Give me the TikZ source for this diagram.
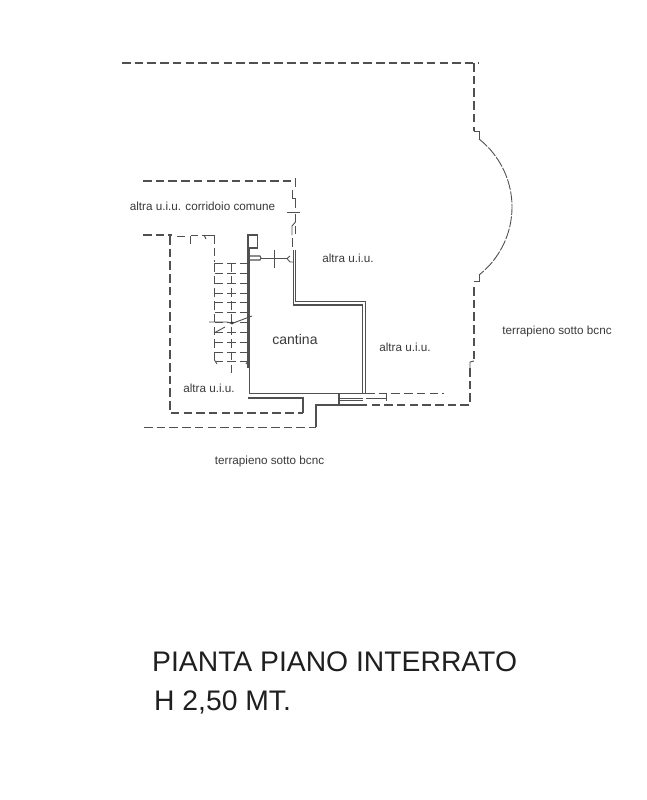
\documentclass[tikz,border=0pt]{standalone}
\usepackage{fontspec}
\setmainfont{Liberation Sans}
\definecolor{ink}{HTML}{3A3A3A}
\definecolor{lineink}{HTML}{505050}
\tikzset{
 wall/.style={draw=lineink,line width=1.05pt},
 thickwall/.style={draw=lineink,line width=3pt},
 dashline/.style={draw=lineink,line width=1.05pt,dash pattern=on 8.5pt off 4.2pt},
 fine/.style={draw=lineink,line width=0.9pt},
 stairdash/.style={draw=lineink,line width=0.95pt,dash pattern=on 8.5pt off 4.2pt},
 archdash/.style={draw=lineink,line width=0.9pt,dash pattern=on 11pt off 1.5pt},
 lab/.style={text=ink,inner sep=0pt,font=\fontsize{11.7}{13}\selectfont},
 title/.style={text=black!88,inner sep=0pt,anchor=base west,font=\fontsize{28.3}{32}\selectfont}
}
\begin{document}
\begin{tikzpicture}[x=1pt,y=-1pt]
\useasboundingbox (0,0) rectangle (646,800);
\fill[white] (0,0) rectangle (646,800);
% outer dashed boundary
\draw[dashline] (122,63) -- (478,63);
\draw[dashline] (474,63) -- (474,131);
\draw[fine] (474,131) -- (479,131) -- (479,139);
\draw[archdash] plot[domain=-51.7:51.7,samples=40] ({425.4+86.6*cos(\x)},{207+86.6*sin(\x)});
\draw[fine] (479,275) -- (479,281) -- (474,281);
\draw[dashline] (474,287) -- (474,361);
\draw[fine] (474,361) -- (470,362) -- (470,368);
\draw[dashline] (470,368) -- (470,405) -- (366,405);
% corridor dashed
\draw[dashline] (143,181) -- (294,181);
\draw[dashline] (295.5,178) -- (295.5,188);
\draw[fine] (292,190) -- (292,198) -- (295.5,198) -- (295.5,208);
\draw[fine] (287,212) -- (300,212);
\draw[fine] (295.5,214) -- (295.5,222) -- (292,226) -- (292,235);
\draw[fine] (295.5,226) -- (295.5,234);
\draw[fine] (292,238) -- (292,247);
% double wall
\draw[wall] (293.3,250) -- (293.3,305) -- (362.7,305) -- (362.7,393);
\draw[wall] (295.7,250) -- (295.7,301.7) -- (365.7,301.7) -- (365.7,393);
% cantina left and bottom
\draw[thickwall] (248.3,248) -- (248.3,368);
\draw[wall] (249.3,368) -- (249.3,393.3) -- (366,393.3);
% small box and door
\draw[wall] (248,248) -- (248,235) -- (257.3,235) -- (257.3,248) -- (248,248);
\draw[wall] (249,256) -- (260,256) -- (261,258) -- (260,260) -- (249,260);
\draw[fine] (261,258.5) -- (287,258.5);
\draw[fine] (274,250) -- (274,268);
\draw[fine] (287,258.5) -- (290,256) (287,258.5) -- (290,262) -- (293,262);
% left room dashed
\draw[dashline] (143,235) -- (172,235);
\draw[dashline] (170,236) -- (170,413) -- (303,413);
\draw[fine] (177,236) -- (185,236);
\draw[fine] (190.5,235.5) -- (190.5,244);
\draw[fine] (190.5,235.5) -- (198,235.5);
\draw[fine] (202,235) -- (214.5,235);
\draw[fine] (204,235) -- (206,239);
\draw[dashline] (214.5,235) -- (214.5,262);
\draw[wall] (248,398) -- (303,398) -- (303,413);
% lower steps
\draw[dashline] (144,427.3) -- (316,427.3);
\draw[wall] (316,427.3) -- (316,405) -- (366,405);
\draw[wall] (339,393) -- (339,405);
\draw[fine] (339,398) -- (363,398) (339,400.3) -- (363,400.3);
\draw[dashline] (366,393.3) -- (444,393.3);
\draw[fine] (366,398.5) -- (386,398.5);
\draw[fine] (386,393.3) -- (386,401);
% stairs
\foreach \s in {263,273,283,293,302.7,312,322,332,342,352,361}{
  \draw[stairdash] (214.5,\s) -- (248,\s);
}
\draw[stairdash] (214.5,263) -- (214.5,361);
\draw[stairdash] (231.7,263) -- (231.7,373);
% break line
\draw[fine] (209,322) -- (227,322) -- (232,323.5) -- (252,316);
\fill[ink] (232,323) circle (1.6pt);
\draw[fine] (214,333) -- (225,327);
\draw[fine] (214.5,360) -- (217,364) (248,361) -- (246,364);
% labels
\node[lab] (corr) at (202.5,206) {altra u.i.u. corridoio comune};
\node[lab] (u1) at (348,258) {altra u.i.u.};
\node[lab] (u2) at (405,347) {altra u.i.u.};
\node[lab] (u3) at (209,388) {altra u.i.u.};
\node[lab] (t1) at (557,331) {terrapieno sotto bcnc};
\node[lab] (t2) at (269.5,461.5) {terrapieno sotto bcnc};
\node[lab,font=\fontsize{14}{16}\selectfont] (cant) at (295,339) {cantina};
\node[title] (ti1) at (152,671) {PIANTA PIANO INTERRATO};
\node[title] (ti2) at (154,710) {H 2,50 MT.};
\end{tikzpicture}
\end{document}
